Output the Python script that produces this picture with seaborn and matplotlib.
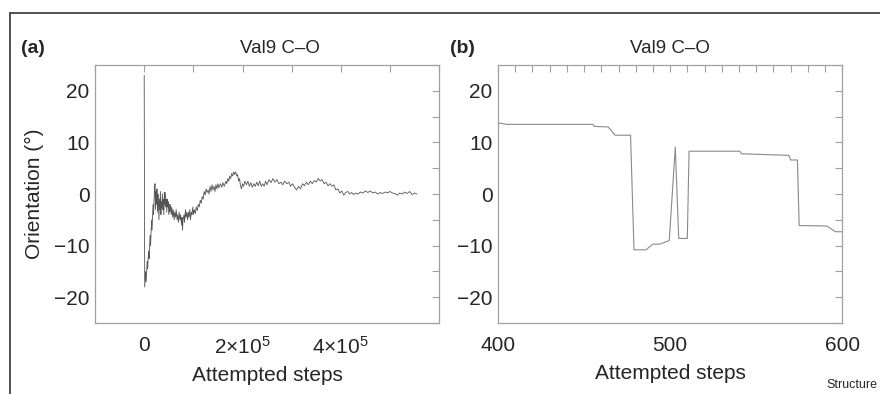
import numpy as np
import pandas as pd
import matplotlib
matplotlib.use('Agg')
import matplotlib.pyplot as plt
import seaborn as sns
from matplotlib.ticker import MultipleLocator, FixedLocator, FuncFormatter
from matplotlib.lines import Line2D

sns.set_style('white')
plt.rcParams['font.family'] = ['Liberation Sans', 'DejaVu Sans']
plt.rcParams['mathtext.fontset'] = 'custom'
plt.rcParams['mathtext.rm'] = 'Liberation Sans'
plt.rcParams['mathtext.it'] = 'Liberation Sans:italic'

# (a) full run, steps in thousands
steps_a_k = [0, 1, 3, 4, 6, 7, 9, 10, 12, 13, 15, 16, 18, 19, 21, 22, 23, 24, 25, 26,
             27, 28, 29, 30, 31, 32, 33, 34, 35, 36, 37, 38, 39, 40, 41, 42, 43, 44, 45, 46,
             47, 48, 49, 50, 51, 52, 53, 55, 56, 58, 59, 61, 62, 64, 65, 67, 68, 70, 71, 73,
             74, 76, 77, 78, 79, 81, 82, 84, 85, 87, 88, 90, 91, 93, 94, 96, 97, 99, 100, 102,
             104, 106, 108, 110, 112, 114, 116, 118, 120, 122, 124, 126, 128, 130, 132, 134, 136, 138, 140, 142,
             144, 146, 148, 150, 152, 155, 158, 160, 163, 166, 168, 170, 172, 174, 176, 178, 180, 182, 184, 186,
             188, 190, 192, 194, 196, 198, 200, 202, 205, 208, 211, 214, 217, 220, 223, 226, 229, 232, 235, 238,
             241, 244, 247, 250, 254, 258, 262, 266, 270, 274, 278, 282, 286, 290, 294, 298, 302, 306, 310, 314,
             318, 322, 326, 330, 334, 338, 342, 346, 350, 354, 358, 362, 366, 370, 374, 378, 382, 386, 390, 394,
             398, 402, 406, 410, 414, 418, 422, 426, 430, 435, 440, 445, 450, 455, 460, 465, 470, 475, 480, 485,
             490, 495, 500, 505, 510, 515, 520, 525, 530, 535, 540, 545, 550, 555]
orient_a = [23, -18, -15, -17, -13, -14.5, -11, -12.5, -8, -10, -5, -7, -2, -4, 1, 2, -3, 0.5, -2, 1,
            -3.5, 0, -2, -5, -1, -3, 0.5, -4, -1.5, -2.5, 0, -3, -1, -4, 0.3, -2, 0.3, -2.5, -1, -3.5,
            -1, -2.5, -1.5, -4, -2, -3.5, -2, -4, -2.5, -4.5, -3, -5, -3.5, -4.5, -3, -5, -4, -5.5, -3.5, -5,
            -4, -6, -4.5, -7, -5, -4, -5.5, -3, -4.5, -3.5, -5, -3.5, -4.5, -3, -5, -3.5, -4, -2.5, -4, -3,
            -3.8, -2.5, -3.2, -2, -2.5, -1.2, -1.8, -0.5, -1, 0.5, -0.2, 1, 0.3, 0.8, 0, 1.5, 0.5, 1.8, 0.8, 1.5,
            0.5, 1.8, 1, 2, 1.2, 2, 1.3, 2.2, 1.5, 2.5, 2, 3, 2.5, 3.5, 3, 4, 3.5, 4.3, 3.8, 4.3,
            3.5, 3.8, 2.5, 3, 1.5, 1, 2, 1.5, 2.5, 1.8, 2.5, 1.5, 2.2, 1.3, 2, 1.5, 2.3, 1.6, 2.5, 1.5,
            2, 1.5, 2.5, 1.8, 2.8, 2.2, 3, 2.3, 2.8, 2, 2.3, 1.8, 2.5, 2, 2.3, 1.5, 2, 1.3, 0.8, 1.5,
            1, 2, 1.6, 2.3, 1.8, 2.5, 2, 2.6, 2.3, 3, 2.5, 2.8, 2, 2.3, 1.6, 2, 1.5, 1.8, 0.8, 1,
            0.2, 0.6, -0.2, 0.3, 0.5, 0, 0.3, -0.1, 0.2, 0, 0.4, 0.2, 0.6, 0.3, 0.6, 0.2, 0.4, 0, 0.3, 0.1,
            0.4, 0.2, 0.5, 0.2, 0.1, -0.2, 0.2, 0, 0.4, 0.1, 0.5, -0.1, 0.2, 0]

# (b) close-up of steps 400-600
steps_b = [400, 405, 455, 456, 464, 468, 477, 479, 486, 490, 494, 498, 499.5, 503, 505, 510,
           511, 540.4, 541.5, 569, 570, 574, 575, 591, 593, 596, 600]
orient_b = [13.8, 13.5, 13.5, 13.1, 13.0, 11.4, 11.4, -10.8, -10.8, -9.7, -9.7, -9.2, -9.0, 9.1, -8.6, -8.6,
            8.3, 8.3, 7.8, 7.5, 6.6, 6.6, -6.1, -6.2, -6.6, -7.3, -7.3]

# labelled ticks of panel (a)
xticks_a = [0, 2e5, 4e5]

df_a = pd.DataFrame({'step': np.array(steps_a_k) * 1e3, 'orient': orient_a})
df_b = pd.DataFrame({'step': steps_b, 'orient': orient_b})

fig = plt.figure(figsize=(8.8, 3.94), dpi=100)
ax1 = fig.add_axes([0.108, 0.180, 0.391, 0.655])
ax2 = fig.add_axes([0.566, 0.180, 0.391, 0.655])

sns.lineplot(data=df_a, x='step', y='orient', ax=ax1, estimator=None, sort=False,
             color='#555555', linewidth=0.6)
sns.lineplot(data=df_b, x='step', y='orient', ax=ax2, estimator=None, sort=False,
             color='#8a8a8a', linewidth=0.8)

spine_col = '#a0a0a0'
for ax in (ax1, ax2):
    ax.set_ylim(-25, 25)
    ax.yaxis.set_major_locator(MultipleLocator(10))
    ax.yaxis.set_minor_locator(MultipleLocator(5))
    ax.tick_params(which='both', direction='in', top=True, right=True,
                   color=spine_col, length=5, width=0.8)
    ax.tick_params(axis='both', labelsize=15)
    ax.tick_params(axis='x', pad=9)
    ax.tick_params(axis='y', pad=4)
    for s in ax.spines.values():
        s.set_color(spine_col)
        s.set_linewidth(0.9)
    ax.set_ylabel('')

ax1.set_xlabel('Attempted steps', fontsize=15, labelpad=6)
ax2.set_xlabel('Attempted steps', fontsize=15, labelpad=7)

ax1.set_xlim(-1e5, 6e5)
ax1.xaxis.set_major_locator(FixedLocator(xticks_a))
ax1.xaxis.set_minor_locator(MultipleLocator(1e5))
ax1.xaxis.set_major_formatter(FuncFormatter(
    lambda v, p: '0' if v == 0 else r'$%d{\times}10^{5}$' % round(v / 1e5)))
ax1.set_ylabel('Orientation (°)', fontsize=15, labelpad=7)

ax2.set_xlim(400, 600)
ax2.xaxis.set_major_locator(MultipleLocator(100))
ax2.xaxis.set_minor_locator(MultipleLocator(10))

ax1.set_title('Val9 C–O', fontsize=13.5, x=0.538, pad=9)
ax2.set_title('Val9 C–O', fontsize=13.5, pad=9)

fig.text(21 / 880, 1 - 53 / 394, '(a)', fontsize=14, fontweight='bold', va='baseline')
fig.text(450 / 880, 1 - 53 / 394, '(b)', fontsize=14, fontweight='bold', va='baseline')
fig.text(877 / 880, 1 - 388 / 394, 'Structure', fontsize=9, ha='right', va='baseline')

# journal frame
fig.add_artist(Line2D([10 / 880, 1], [1 - 13 / 394] * 2, color='#333333', lw=1.2))
fig.add_artist(Line2D([10 / 880] * 2, [0, 1 - 13 / 394], color='#333333', lw=1.2))

plt.savefig('out.png', dpi=100)
plt.close('all')
